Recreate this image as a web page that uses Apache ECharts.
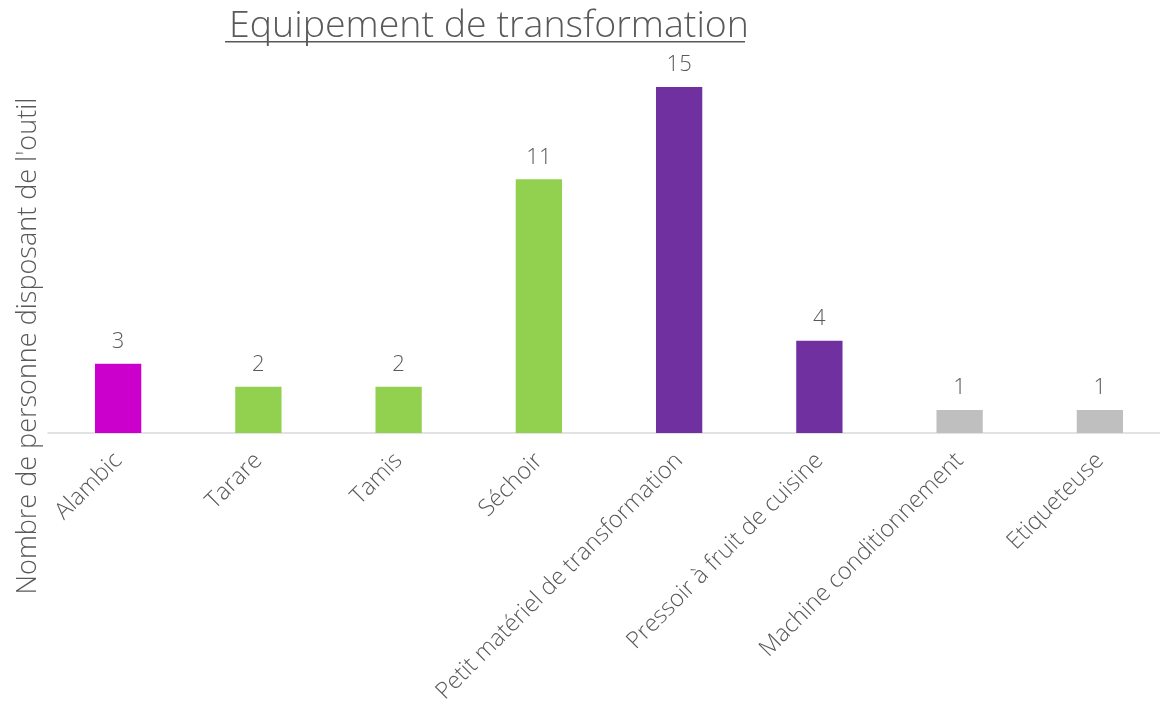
<!DOCTYPE html>
<html>
<head>
<meta charset="utf-8">
<script src="https://cdn.jsdelivr.net/npm/echarts@6/dist/echarts.min.js"></script>
<style>
  html, body { margin: 0; padding: 0; background: #fff; }
  #chart { width: 1160px; height: 709px; }
</style>
</head>
<body>
<div id="chart"></div>
<script>
  // données
  var categories = ['Alambic', 'Tarare', 'Tamis', 'Séchoir', 'Petit matériel de transformation',
    'Pressoir à fruit de cuisine', 'Machine conditionnement', 'Etiqueteuse'];
  var values = [3, 2, 2, 11, 15, 4, 1, 1];
  var barColors = ['#CC00CC', '#92D050', '#92D050', '#92D050', '#7030A0', '#7030A0', '#BFBFBF', '#BFBFBF'];

  var font = '"Open Sans", Lato, sans-serif';
  var textColor = '#595959';

  var chart = echarts.init(document.getElementById('chart'));
  chart.setOption({
    backgroundColor: '#fff',
    animation: false,
    title: {
      text: 'Equipement de transformation',
      left: 484,
      textAlign: 'center',
      top: 2,
      textStyle: { fontFamily: font, fontWeight: 300, fontSize: 37.5, color: textColor }
    },
    graphic: [
      // soulignement du titre
      { type: 'rect', shape: { x: 225, y: 41, width: 520, height: 1.5 }, style: { fill: textColor } },
      {
        type: 'text', x: 28, y: 346, rotation: Math.PI / 2,
        style: {
          text: "Nombre de personne disposant de l'outil",
          font: '300 27px ' + font, fill: textColor, align: 'center', verticalAlign: 'middle'
        }
      }
    ],
    grid: { left: 48, width: 1122, top: 87, height: 346, outerBoundsMode: 'none', containLabel: false },
    xAxis: {
      type: 'category',
      data: categories,
      axisLine: { lineStyle: { color: '#D9D9D9', width: 1.5 } },
      axisTick: { show: false },
      axisLabel: {
        rotate: 45, margin: 24, interval: 0,
        fontFamily: font, fontWeight: 300, fontSize: 23.5, color: textColor
      }
    },
    yAxis: {
      type: 'value', min: 0, max: 15,
      axisLine: { show: false }, axisTick: { show: false },
      axisLabel: { show: false }, splitLine: { show: false }
    },
    series: [{
      type: 'bar',
      barWidth: '33%',
      data: values.map(function (v, i) {
        return { value: v, itemStyle: { color: barColors[i] } };
      }),
      label: {
        show: true, position: 'top', distance: 11,
        fontFamily: font, fontWeight: 300, fontSize: 22, color: textColor
      }
    }]
  });
</script>
</body>
</html>
